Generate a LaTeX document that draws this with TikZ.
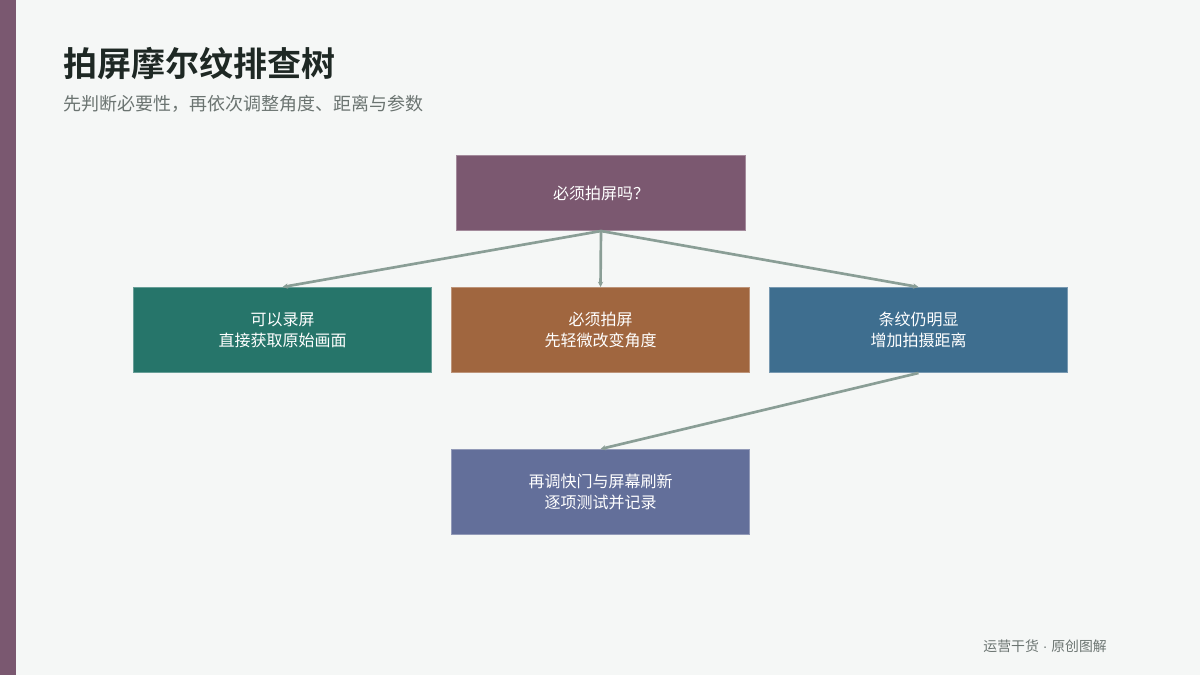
\documentclass[tikz,border=0pt]{standalone}
\usepackage{fontspec}
\setmainfont{Noto Sans CJK SC}
\newfontfamily\cjkb{Noto Sans CJK SC Bold}
\newfontfamily\latinf{Liberation Sans}
\usetikzlibrary{arrows.meta}
\definecolor{bgc}{HTML}{F5F7F6}
\definecolor{barc}{HTML}{7A5870}
\definecolor{titlec}{HTML}{1E2824}
\definecolor{subc}{HTML}{6B7471}
\definecolor{linkc}{HTML}{8A9E96}
\definecolor{cpurple}{HTML}{7B5870}
\definecolor{cgreen}{HTML}{26756A}
\definecolor{cbrown}{HTML}{A0663F}
\definecolor{cblue}{HTML}{3E6E8F}
\definecolor{cslate}{HTML}{636F9A}
\begin{document}
\begin{tikzpicture}[x=0.75pt,y=-0.75pt,
  boxnode/.style={draw=#1!70!white, line width=0.75pt, fill=#1, text=white,
    minimum width=223.5pt, minimum height=63.75pt, inner sep=0pt, anchor=north west,
    align=center, font=\fontsize{12pt}{15.75pt}\selectfont},
  link/.style={draw=linkc, line width=2pt, -{Stealth[length=4pt,width=4pt]}}]
\useasboundingbox (0,0) rectangle (1200,675);
\fill[bgc] (0,0) rectangle (1200,675);
\fill[barc] (0,0) rectangle (16,675);
\node[anchor=base west, inner sep=0pt, text=titlec, font=\cjkb\fontsize{25.5pt}{30pt}\selectfont] (title) at (63,76) {拍屏摩尔纹排查树};
\node[anchor=base west, inner sep=0pt, text=subc, font=\fontsize{13.5pt}{16pt}\selectfont] (sub) at (63,110) {先判断必要性，再依次调整角度、距离与参数};
\node[boxnode=cpurple, minimum width=216.75pt, minimum height=56.25pt] (top) at (456,155) {必须拍屏吗？};
\node[boxnode=cgreen] (a) at (133,287) {可以录屏\\直接获取原始画面};
\node[boxnode=cbrown] (b) at (451,287) {必须拍屏\\先轻微改变角度};
\node[boxnode=cblue] (c) at (769,287) {条纹仍明显\\增加拍摄距离};
\node[boxnode=cslate] (d) at (451,449) {再调快门与屏幕刷新\\逐项测试并记录};
\draw[link] (top.south) -- (a.north);
\draw[link] (top.south) -- (b.north);
\draw[link] (top.south) -- (c.north);
\draw[link] (c.south) -- (d.north);
\node[anchor=base east, inner sep=0pt, text=subc, font=\fontsize{10.4pt}{12pt}\selectfont] (foot) at (1107,651) {运营干货{\latinf\ ·\ }原创图解};
\end{tikzpicture}
\end{document}
